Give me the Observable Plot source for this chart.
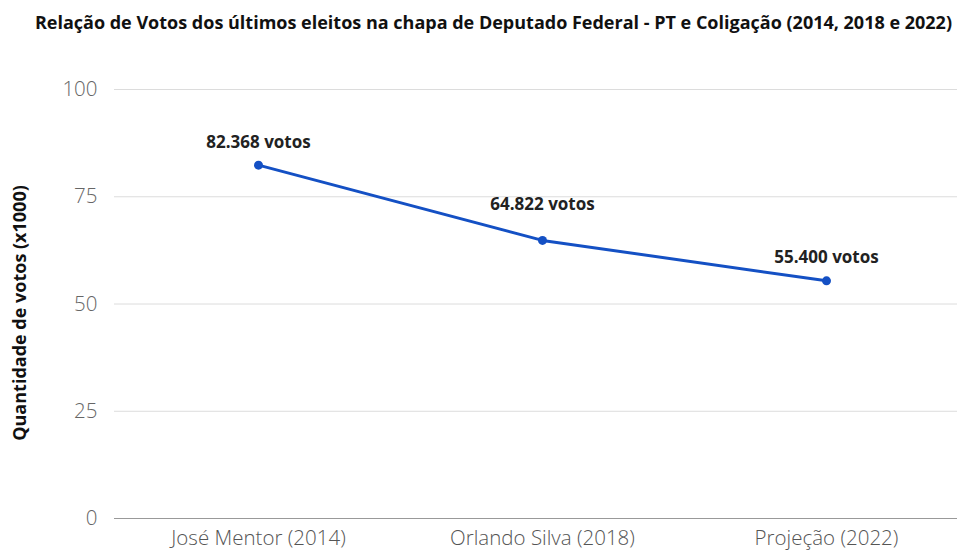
<!DOCTYPE html>
<html>
<head>
<meta charset="utf-8">
<script src="https://cdn.jsdelivr.net/npm/d3@7"></script>
<script src="https://cdn.jsdelivr.net/npm/@observablehq/plot@0.6"></script>
<style>
  html, body { margin: 0; padding: 0; background: #fff; }
  body { width: 957px; height: 551px; overflow: hidden; font-family: "Open Sans", sans-serif; }
  #title { height: 45px; box-sizing: border-box; padding-top: 10px; padding-right: 5px; text-align: right;
           font-weight: 700; font-size: 18px; line-height: 24px; color: #111; white-space: nowrap; letter-spacing: 0px; }
</style>
</head>
<body>
<div id="title">Relação de Votos dos últimos eleitos na chapa de Deputado Federal - PT e Coligação (2014, 2018 e 2022)</div>
<div id="chart"></div>
<script>
const categories = ["José Mentor (2014)", "Orlando Silva (2018)", "Projeção (2022)"];
const votes = [82.368, 64.822, 55.4];
const labels = ["82.368 votos", "64.822 votos", "55.400 votos"];
const yTicks = [0, 25, 50, 75, 100];
const gridTicks = [25, 50, 75, 100];
const yLabel = "Quantidade de votos (x1000)";

const data = categories.map((c, i) => ({cat: c, v: votes[i], label: labels[i], i}));
const blue = "#1450c4";

const plot = Plot.plot({
  width: 957,
  height: 506,
  marginLeft: 114,
  marginRight: 0,
  marginTop: 44,
  marginBottom: 33,
  style: {fontFamily: "Open Sans, sans-serif", background: "#fff", overflow: "visible"},
  x: {type: "point", domain: categories, padding: 0.479, align: 0.524},
  y: {domain: [0, 100]},
  marks: [
    Plot.ruleY(gridTicks, {stroke: "#dcdcdc", strokeWidth: 1}),
    Plot.ruleY([0], {stroke: "#999", strokeWidth: 1.2}),
    Plot.axisY({ticks: yTicks, tickSize: 0, tickPadding: 17, fontSize: 20.5, fontWeight: 300, fill: "#666", label: null}),
    Plot.axisX({tickSize: 0, tickPadding: 12, fontSize: 20.5, fontWeight: 300, fill: "#555", label: null}),
    Plot.text([yLabel], {frameAnchor: "left", textAnchor: "middle", rotate: -90, dx: -94, dy: 9, fontWeight: 700, fontSize: 18, fill: "#111"}),
    Plot.line(data, {x: "cat", y: "v", stroke: blue, strokeWidth: 3}),
    Plot.dot(data, {x: "cat", y: "v", fill: blue, r: 4.5}),
    Plot.text(data.filter(d => d.i !== 1), {x: "cat", y: "v", text: "label", dy: -23, fontWeight: 700, fontSize: 17, fill: "#222"}),
    Plot.text(data.filter(d => d.i === 1), {x: "cat", y: "v", text: "label", dy: -36, fontWeight: 700, fontSize: 17, fill: "#222"})
  ]
});
document.getElementById("chart").appendChild(plot);
</script>
</body>
</html>
